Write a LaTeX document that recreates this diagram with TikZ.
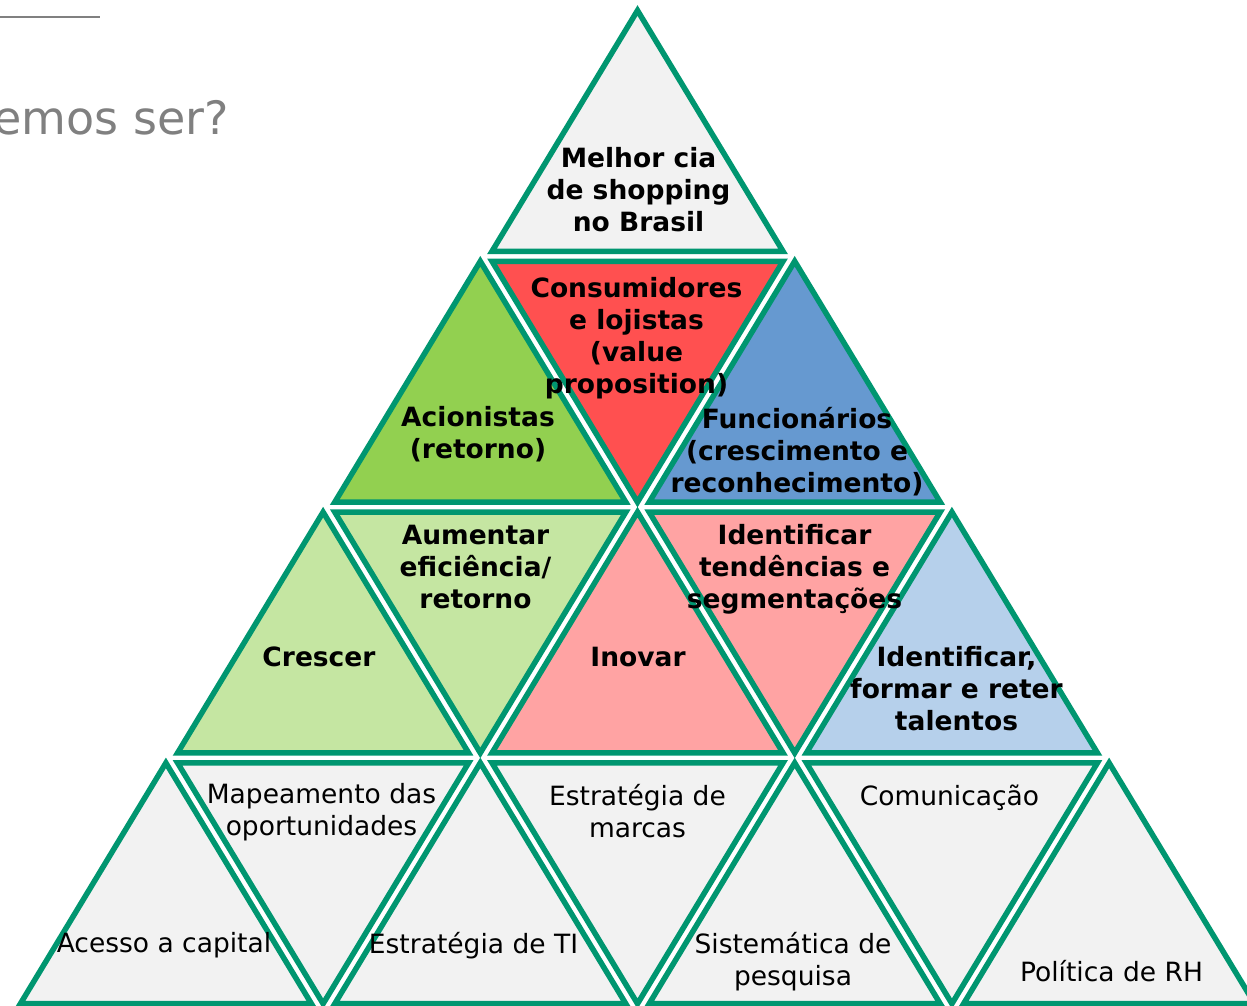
\documentclass[tikz,border=0pt]{standalone}
\usepackage{fontspec}
\setmainfont{DejaVu Sans}
\definecolor{edge}{RGB}{0,150,112}
\definecolor{pale}{RGB}{242,242,242}
\definecolor{redA}{RGB}{255,80,80}
\definecolor{grnA}{RGB}{146,208,80}
\definecolor{bluA}{RGB}{102,153,208}
\definecolor{grnB}{RGB}{197,230,162}
\definecolor{redB}{RGB}{255,163,163}
\definecolor{bluB}{RGB}{182,208,235}
\definecolor{titlegray}{RGB}{128,128,128}
\newcommand\UpTri[4]{\path[tri,fill=#4] ({#1-145.5},{-#3}) -- ({#1},{-#2}) -- ({#1+145.5},{-#3}) -- cycle;}
\newcommand\DnTri[4]{\path[tri,fill=#4] ({#1-145.5},{-#2}) -- ({#1+145.5},{-#2}) -- ({#1},{-#3}) -- cycle;}
\begin{document}
\begin{tikzpicture}[x=1pt,y=1pt,
  tri/.style={draw=edge, line width=5.5pt, line join=miter},
  boldtxt/.style={font=\fontsize{26.5}{32}\selectfont\bfseries, align=center, inner sep=0pt, anchor=north},
  plaintxt/.style={font=\fontsize{26.5}{32}\selectfont, align=center, inner sep=0pt, anchor=north}]
\useasboundingbox (0,0) rectangle (1247,-1006);
% title remnants
\coordinate (ruleA) at (0,-17);
\coordinate (ruleB) at (100,-17);
\draw[titlegray, line width=1.5pt] (ruleA) -- (ruleB);
\node[anchor=base east, font=\fontsize{46}{55}\selectfont, text=titlegray, inner sep=0pt] (title) at (229,-135) {emos ser?};
% row 1
\UpTri{637.5}{10.5}{251.3}{pale}
% row 2
\UpTri{480.3}{261.3}{502.1}{grnA}
\DnTri{637.5}{261.3}{502.1}{redA}
\UpTri{794.7}{261.3}{502.1}{bluA}
% row 3
\UpTri{323.1}{512.1}{752.9}{grnB}
\DnTri{480.3}{512.1}{752.9}{grnB}
\UpTri{637.5}{512.1}{752.9}{redB}
\DnTri{794.7}{512.1}{752.9}{redB}
\UpTri{951.9}{512.1}{752.9}{bluB}
% row 4
\UpTri{165.9}{762.9}{1003.7}{pale}
\DnTri{323.1}{762.9}{1003.7}{pale}
\UpTri{480.3}{762.9}{1003.7}{pale}
\DnTri{637.5}{762.9}{1003.7}{pale}
\UpTri{794.7}{762.9}{1003.7}{pale}
\DnTri{951.9}{762.9}{1003.7}{pale}
\UpTri{1109.1}{762.9}{1003.7}{pale}
% texts
\node[boldtxt] (melhor) at (638.5,-147.5) {Melhor cia\\de shopping\\no Brasil};
\node[boldtxt] (consum) at (636.5,-277.5) {Consumidores\\e lojistas\\(value\\proposition)};
\node[boldtxt] (acion) at (478,-406.5) {Acionistas\\(retorno)};
\node[boldtxt] (func) at (797,-407.5) {Funcionários\\(crescimento e\\reconhecimento)};
\node[boldtxt] (aument) at (475.5,-524.5) {Aumentar\\eficiência/\\retorno};
\node[boldtxt] (cresc) at (319,-646.5) {Crescer};
\node[boldtxt] (inov) at (638,-646.5) {Inovar};
\node[boldtxt] (tend) at (794.5,-524.5) {Identificar\\tendências e\\segmentações};
\node[boldtxt] (talent) at (956.5,-646.5) {Identificar,\\formar e reter\\talentos};
\node[plaintxt] (mapea) at (321.5,-783.5) {Mapeamento das\\oportunidades};
\node[plaintxt] (marcas) at (637.5,-784.5) {Estratégia de\\marcas};
\node[plaintxt] (comun) at (949.5,-784.5) {Comunicação};
\node[plaintxt] (acesso) at (164,-932.5) {Acesso a capital};
\node[plaintxt] (estti) at (473.5,-932.5) {Estratégia de TI};
\node[plaintxt] (sistem) at (793,-932.5) {Sistemática de\\pesquisa};
\node[plaintxt] (polit) at (1111.5,-960.5) {Política de RH};
\end{tikzpicture}
\end{document}
